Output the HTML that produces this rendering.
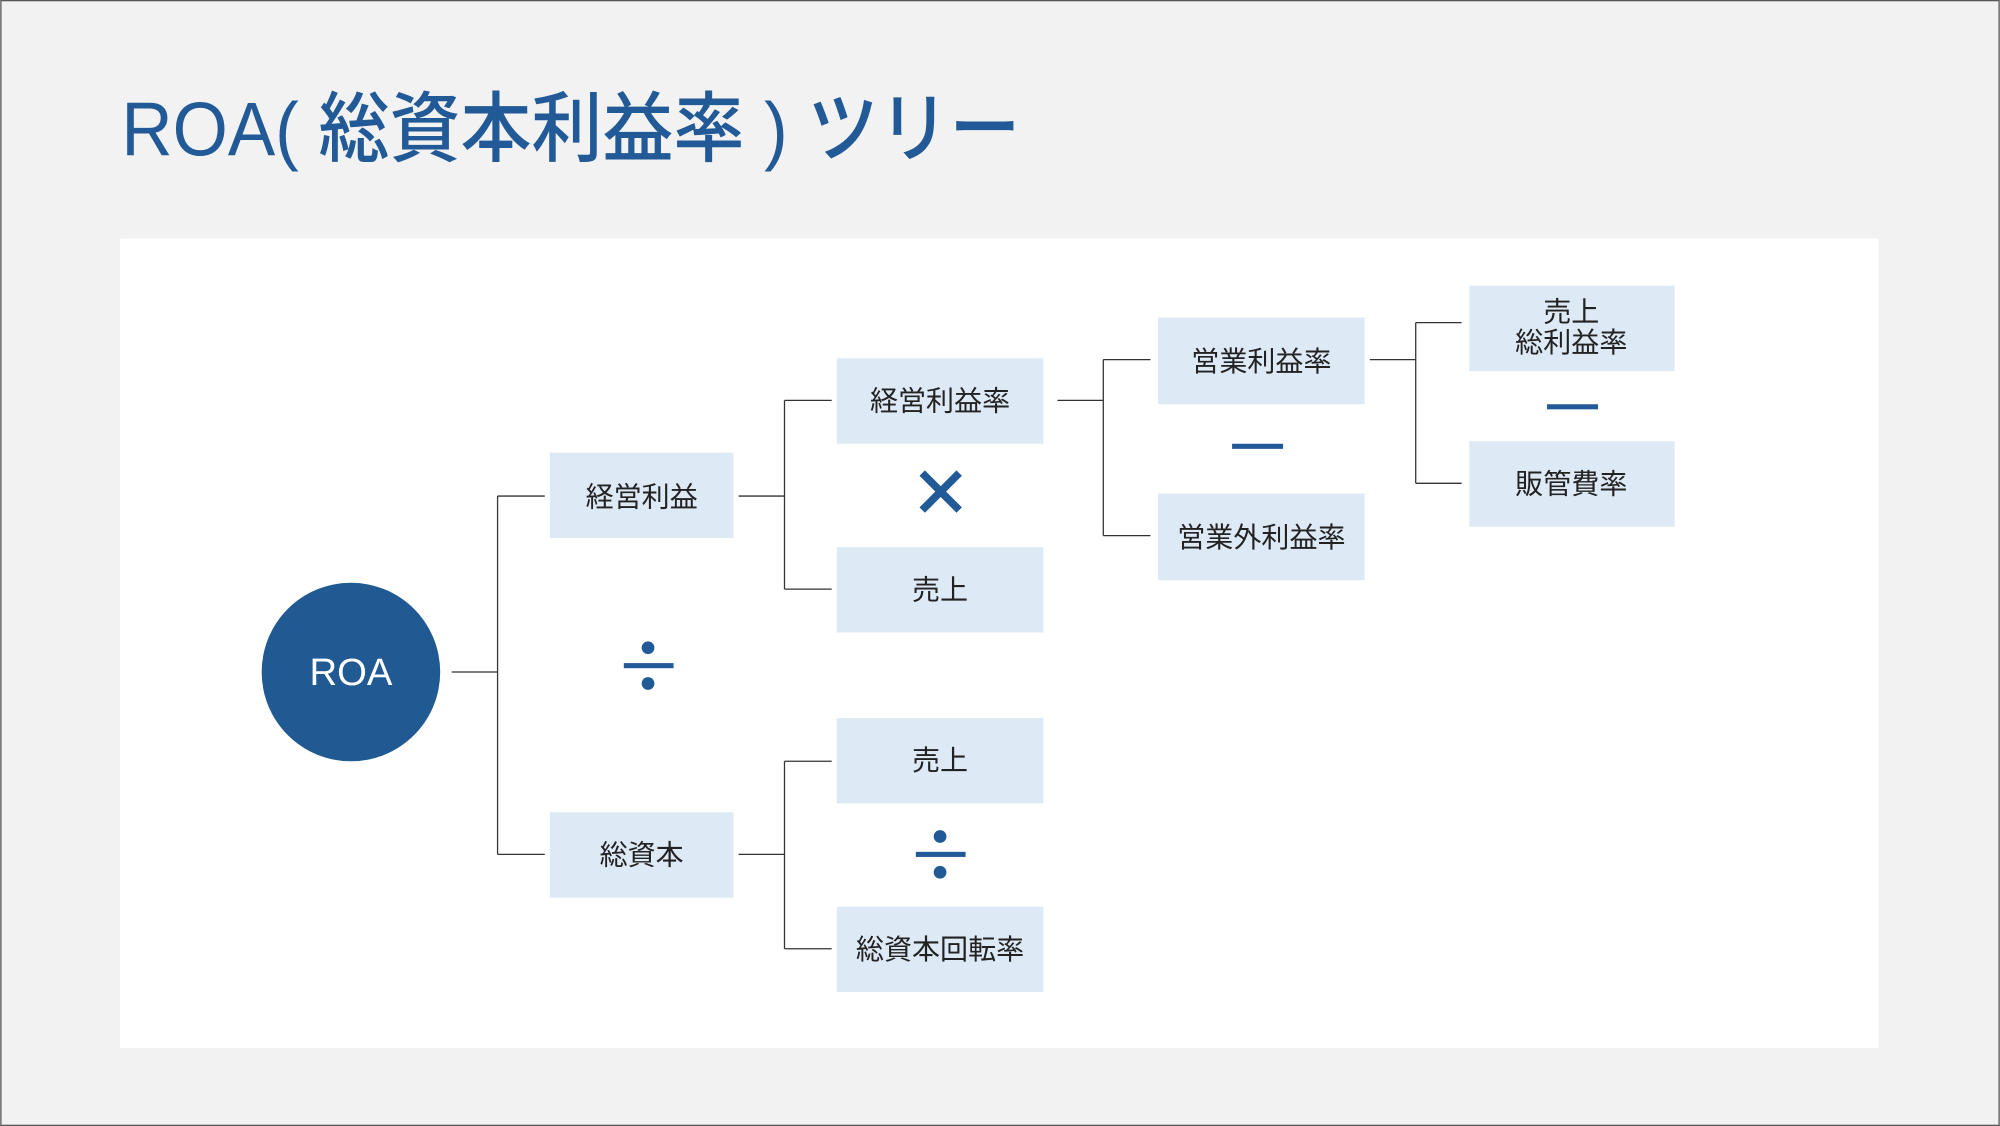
<!DOCTYPE html>
<html><head><meta charset="utf-8"><style>
html,body{margin:0;padding:0;background:#f2f2f2;}
svg{display:block;}
text{font-family:"Liberation Sans","Noto Sans CJK JP",sans-serif;}
</style></head><body>
<svg width="2000" height="1126" viewBox="0 0 1568 883" xmlns="http://www.w3.org/2000/svg">
<rect x="0.5" y="0.5" width="1567" height="882" fill="#f2f2f2" stroke="#555" stroke-width="1"/>
<text x="95" y="122" font-size="60" fill="#215a96" font-weight="500" textLength="705" lengthAdjust="spacingAndGlyphs">ROA( 総資本利益率 ) ツリー</text>
<rect x="94" y="187" width="1379" height="635" fill="#ffffff"/>
<circle cx="275" cy="527" r="70" fill="#215a92"/>
<text x="275" y="537" font-size="30" fill="#fff" text-anchor="middle">ROA</text>
<g fill="none" stroke="#333" stroke-width="1">
<path d="M354 527H390M390 389V670M390 389H427M390 670H427"/>
<path d="M579 389H615M615 314V462M615 314H652M615 462H652"/>
<path d="M579 670H615M615 597V744M615 597H652M615 744H652"/>
<path d="M829 314H865M865 282V420M865 282H902M865 420H902"/>
<path d="M1074 282H1110M1110 253V379M1110 253H1146M1110 379H1146"/>
</g>
<g fill="#ddeaf6">
<rect x="431" y="355" width="144" height="67"/>
<rect x="431" y="637" width="144" height="67"/>
<rect x="656" y="281" width="162" height="67"/>
<rect x="656" y="429" width="162" height="67"/>
<rect x="656" y="563" width="162" height="67"/>
<rect x="656" y="711" width="162" height="67"/>
<rect x="908" y="249" width="162" height="68"/>
<rect x="908" y="387" width="162" height="68"/>
<rect x="1152" y="224" width="161" height="67"/>
<rect x="1152" y="346" width="161" height="67"/>
</g>
<g font-size="22" fill="#222" text-anchor="middle">
<text x="503" y="397">経営利益</text>
<text x="503" y="678">総資本</text>
<text x="737" y="322">経営利益率</text>
<text x="737" y="470">売上</text>
<text x="737" y="604">売上</text>
<text x="737" y="752">総資本回転率</text>
<text x="989" y="291">営業利益率</text>
<text x="989" y="429">営業外利益率</text>
<text x="1232" y="252">売上</text>
<text x="1232" y="276">総利益率</text>
<text x="1232" y="387">販管費率</text>
</g>
<g fill="#215a96">
<rect x="489" y="520" width="39" height="4"/>
<circle cx="508" cy="508" r="5"/><circle cx="508" cy="536" r="5"/>
<rect x="718" y="668" width="39" height="4"/>
<circle cx="737" cy="656" r="5"/><circle cx="737" cy="684" r="5"/>
<rect x="966" y="348" width="40" height="4"/>
<rect x="1213" y="317" width="40" height="4"/>
</g>
<path d="M723 371L752 400M752 371L723 400" stroke="#215a96" stroke-width="6"/>
</svg>
</body></html>
